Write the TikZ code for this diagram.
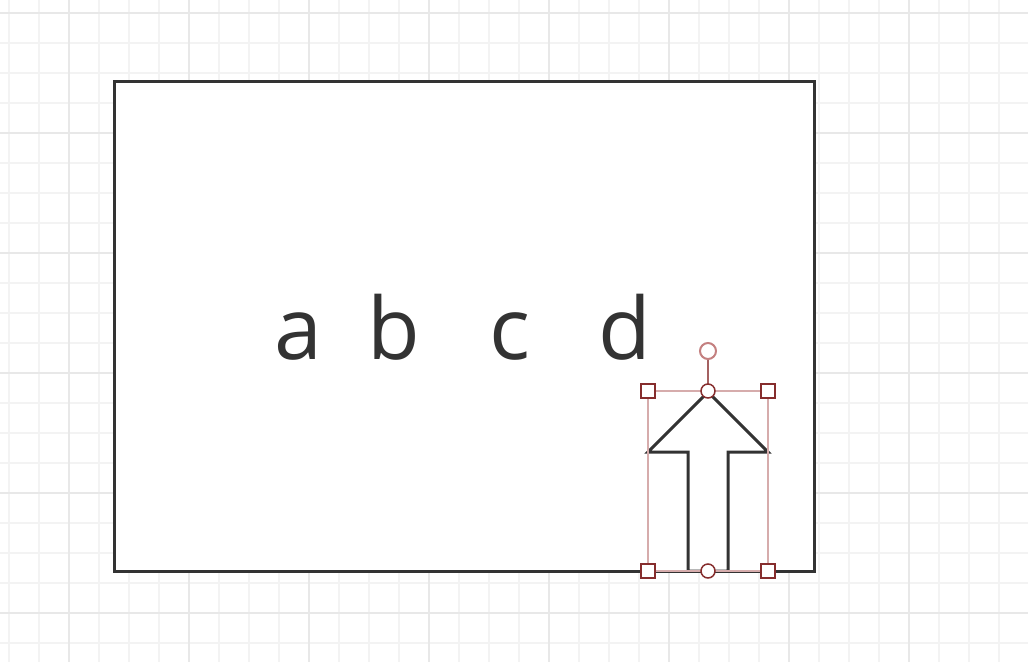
\documentclass[tikz,border=0pt]{standalone}
\usepackage{fontspec}
\setmainfont{Open Sans}
\usepackage{tikz}
\definecolor{Ink}{RGB}{51,51,51}
\definecolor{GridMinor}{RGB}{243,243,243}
\definecolor{GridMajor}{RGB}{232,232,232}
\definecolor{Handle}{RGB}{134,45,45}
\definecolor{SelFrame}{RGB}{214,172,172}
\definecolor{RotHandle}{RGB}{196,128,128}

\begin{document}
\begin{tikzpicture}[x=1pt,y=-1pt]
  \useasboundingbox (0,0) rectangle (1028,662);
  \fill[white] (0,0) rectangle (1028,662);
  % grid
  \foreach \gx in {9,39,...,1029} \draw[GridMinor,line width=1.5pt] (\gx,0) -- (\gx,662);
  \foreach \gy in {13,43,...,662} \draw[GridMinor,line width=1.5pt] (0,\gy) -- (1028,\gy);
  \foreach \gx in {69,189,...,1029} \draw[GridMajor,line width=1.5pt] (\gx,0) -- (\gx,662);
  \foreach \gy in {13,133,...,662} \draw[GridMajor,line width=1.5pt] (0,\gy) -- (1028,\gy);
  % frame and label
  \node[draw=Ink,line width=3pt,fill=white,inner sep=0,outer sep=0,
        minimum width=700pt,minimum height=490pt,anchor=north west] (frame) at (114,81) {};
  \node[text=Ink,font=\fontsize{86}{86}\selectfont,anchor=base west,inner sep=0]
    (letters) at (274,359) {a\hspace{46pt}b\hspace{69pt}c\hspace{68pt}d};
  % up arrow
  \draw[Ink,line width=3pt,fill=white,line join=miter]
    (708,392) -- (768,452) -- (728,452) -- (728,571) -- (688,571)
    -- (688,452) -- (648,452) -- cycle;
  % selection handles
  \draw[SelFrame,line width=1.5pt] (648,391) rectangle (768,571);
  \draw[Handle!75,line width=1.5pt] (708,359) -- (708,384);
  \foreach \hx/\hy in {648/391,768/391,648/571,768/571}
    \draw[Handle,line width=2pt,fill=white] (\hx-7,\hy-7) rectangle (\hx+7,\hy+7);
  \foreach \hy in {391,571}
    \draw[Handle,line width=1.5pt,fill=white] (708,\hy) circle (7pt);
  \draw[RotHandle,line width=2pt,fill=white] (708,351) circle (8pt);
\end{tikzpicture}
\end{document}
